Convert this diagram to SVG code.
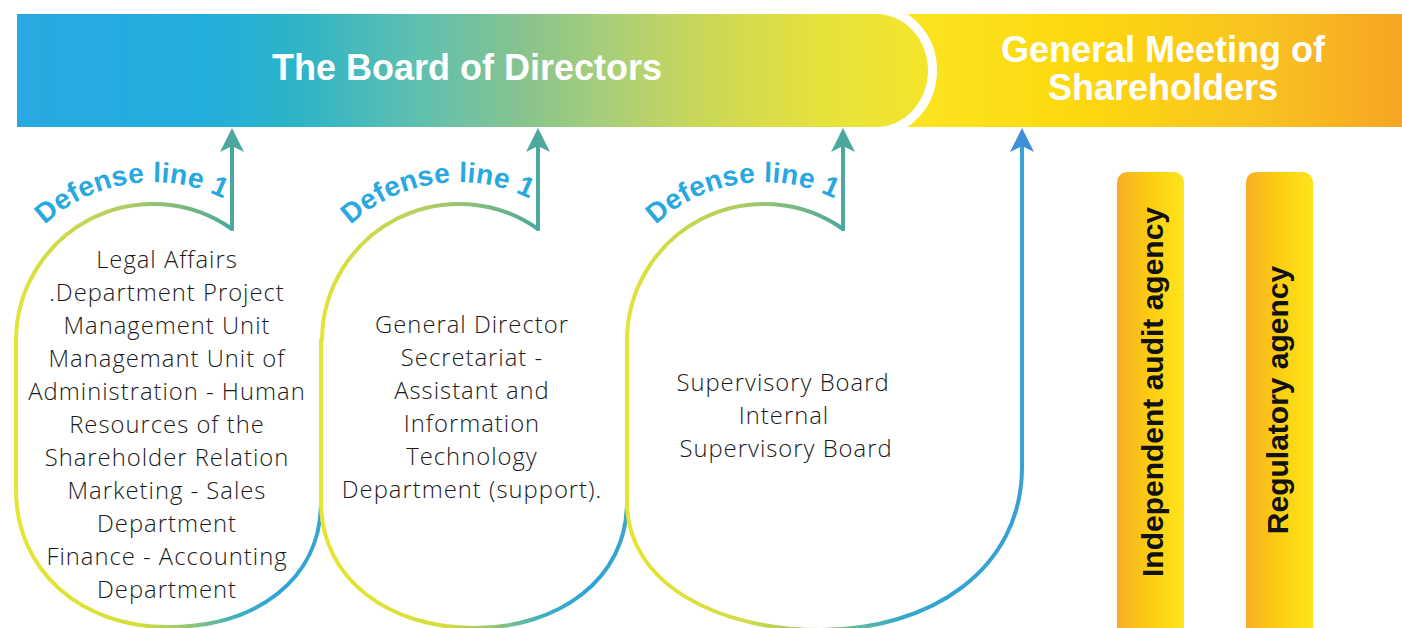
<svg xmlns="http://www.w3.org/2000/svg" width="1402" height="628" viewBox="0 0 1402 628">
<style>
.title{font-family:"Liberation Sans",Arial,sans-serif;font-weight:bold;font-size:36px;fill:#fff;text-anchor:middle}
.def{font-family:"Liberation Sans",Arial,sans-serif;font-weight:bold;font-size:28px;fill:#29a8e0;letter-spacing:0.3px}
.body{font-family:"Open Sans","Liberation Sans",sans-serif;font-weight:300;font-size:23.8px;letter-spacing:1px;fill:#1a1a1a;text-anchor:middle}
.agency{font-family:"Liberation Sans",Arial,sans-serif;font-weight:bold;font-size:30px;fill:#111;text-anchor:middle}
.ln{fill:none;stroke-width:4;stroke-linecap:round}
</style>
<defs>
<linearGradient id="gBoard" x1="17" y1="0" x2="930" y2="0" gradientUnits="userSpaceOnUse">
<stop offset="0" stop-color="#29a9e2"/>
<stop offset="0.2" stop-color="#22aedb"/>
<stop offset="0.3" stop-color="#2bb3c8"/>
<stop offset="0.44" stop-color="#5fc0b0"/>
<stop offset="0.55" stop-color="#86c38f"/>
<stop offset="0.65" stop-color="#a9cf78"/>
<stop offset="0.74" stop-color="#c8d65a"/>
<stop offset="0.88" stop-color="#e6e23c"/>
<stop offset="1" stop-color="#f5e52a"/>
</linearGradient>
<linearGradient id="gGM" x1="900" y1="0" x2="1402" y2="0" gradientUnits="userSpaceOnUse">
<stop offset="0" stop-color="#fbe523"/>
<stop offset="0.35" stop-color="#fdd90e"/>
<stop offset="0.7" stop-color="#f9c420"/>
<stop offset="1" stop-color="#f6a624"/>
</linearGradient>
<linearGradient id="gAg" x1="0" y1="0" x2="1" y2="0">
<stop offset="0" stop-color="#f6ae24"/>
<stop offset="0.5" stop-color="#fcce12"/>
<stop offset="1" stop-color="#fde41c"/>
</linearGradient>
<linearGradient id="gTop1" x1="16" y1="0" x2="232" y2="0" gradientUnits="userSpaceOnUse">
<stop offset="0" stop-color="#e3e33a"/><stop offset="0.5" stop-color="#b2cd62"/><stop offset="1" stop-color="#4aa89c"/>
</linearGradient>
<linearGradient id="gTop2" x1="322" y1="0" x2="538" y2="0" gradientUnits="userSpaceOnUse">
<stop offset="0" stop-color="#e3e33a"/><stop offset="0.5" stop-color="#b2cd62"/><stop offset="1" stop-color="#4aa89c"/>
</linearGradient>
<linearGradient id="gTop3" x1="627" y1="0" x2="843" y2="0" gradientUnits="userSpaceOnUse">
<stop offset="0" stop-color="#e3e33a"/><stop offset="0.5" stop-color="#b2cd62"/><stop offset="1" stop-color="#4aa89c"/>
</linearGradient>
<linearGradient id="gBot1" x1="16" y1="0" x2="321" y2="0" gradientUnits="userSpaceOnUse">
<stop offset="0" stop-color="#e6e535"/><stop offset="0.4" stop-color="#d6de3e"/><stop offset="0.55" stop-color="#9cc86a"/><stop offset="0.72" stop-color="#3fb0c0"/><stop offset="0.87" stop-color="#2aa3dc"/><stop offset="1" stop-color="#3aa6cc"/>
</linearGradient>
<linearGradient id="gBot2" x1="321" y1="0" x2="627" y2="0" gradientUnits="userSpaceOnUse">
<stop offset="0" stop-color="#e6e535"/><stop offset="0.4" stop-color="#d6de3e"/><stop offset="0.55" stop-color="#9cc86a"/><stop offset="0.72" stop-color="#3fb0c0"/><stop offset="0.87" stop-color="#2aa3dc"/><stop offset="1" stop-color="#3aa6cc"/>
</linearGradient>
<linearGradient id="gBot3" x1="627" y1="0" x2="1022" y2="0" gradientUnits="userSpaceOnUse">
<stop offset="0" stop-color="#e6e535"/><stop offset="0.3" stop-color="#d2dc44"/><stop offset="0.5" stop-color="#8cc47a"/><stop offset="0.7" stop-color="#2fa8d0"/><stop offset="1" stop-color="#3a9fd6"/>
</linearGradient>
<path id="arc1" d="M16.2,261 A158,158 0 0 1 289.8,261"/>
<path id="arc2" d="M322.2,261 A158,158 0 0 1 595.8,261"/>
<path id="arc3" d="M627.2,261 A158,158 0 0 1 900.8,261"/>
</defs>

<g id="gm">
<rect x="860" y="14" width="542" height="113" fill="url(#gGM)"/>
<text class="title" x="1163" y="62">General Meeting of</text>
<text class="title" x="1163" y="100">Shareholders</text>
</g>

<g id="board">
<path d="M17,14 H876 A52,56.5 0 0 1 876,127 H17 Z" fill="none" stroke="#fff" stroke-width="18"/>
<path d="M17,14 H876 A52,56.5 0 0 1 876,127 H17 Z" fill="url(#gBoard)"/>
<text class="title" x="467" y="80">The Board of Directors</text>
</g>

<g id="connectors">
<path class="ln" stroke="url(#gTop1)" d="M232,229 A137,137 0 0 0 16,340"/>
<path class="ln" stroke="#e4e436" d="M16,340 V490"/>
<path class="ln" stroke="url(#gBot1)" d="M16,490 C16,570 80,627 168,627 C256,627 321,580 321,502"/>
<path class="ln" stroke="#4aa89c" d="M232,229 V146"/>
<path d="M232,128 L244,152 L232,146 L220,152 Z" fill="#4aa89c"/>

<path class="ln" stroke="url(#gTop2)" d="M538,229 A137,137 0 0 0 322,340"/>
<path class="ln" stroke="#e4e436" d="M321,340 V502"/>
<path class="ln" stroke="url(#gBot2)" d="M321,502 C321,580 390,628 474,628 C558,628 627,580 627,502"/>
<path class="ln" stroke="#4aa89c" d="M538,229 V146"/>
<path d="M538,128 L550,152 L538,146 L526,152 Z" fill="#4aa89c"/>

<path class="ln" stroke="url(#gTop3)" d="M843,229 A137,137 0 0 0 627,340"/>
<path class="ln" stroke="#e4e436" d="M627,340 V502"/>
<path class="ln" stroke="url(#gBot3)" d="M627,502 C627,585 720,630 820,630 C930,630 1022,570 1022,467"/>
<path class="ln" stroke="#4aa89c" d="M843,229 V146"/>
<path d="M843,128 L855,152 L843,146 L831,152 Z" fill="#4aa89c"/>

<path class="ln" stroke="#3aa0d8" d="M1022,468 V146"/>
<path d="M1022,128 L1034,152 L1022,146 L1010,152 Z" fill="#3d8fd8"/>
</g>

<g id="defense1"><text class="def"><textPath href="#arc1" startOffset="46">Defense line 1</textPath></text></g>
<g id="defense2"><text class="def"><textPath href="#arc2" startOffset="46">Defense line 1</textPath></text></g>
<g id="defense3"><text class="def"><textPath href="#arc3" startOffset="46">Defense line 1</textPath></text></g>

<g id="node1">
<text class="body" x="167" y="268">Legal Affairs</text>
<text class="body" x="167" y="301">.Department Project</text>
<text class="body" x="167" y="334">Management Unit</text>
<text class="body" x="167" y="367">Managemant Unit of</text>
<text class="body" x="167" y="400">Administration - Human</text>
<text class="body" x="167" y="433">Resources of the</text>
<text class="body" x="167" y="466">Shareholder Relation</text>
<text class="body" x="167" y="499">Marketing - Sales</text>
<text class="body" x="167" y="532">Department</text>
<text class="body" x="167" y="565">Finance - Accounting</text>
<text class="body" x="167" y="598">Department</text>
</g>

<g id="node2">
<text class="body" x="472" y="333">General Director</text>
<text class="body" x="472" y="366">Secretariat -</text>
<text class="body" x="472" y="399">Assistant and</text>
<text class="body" x="472" y="432">Information</text>
<text class="body" x="472" y="465">Technology</text>
<text class="body" x="472" y="498">Department (support).</text>
</g>

<g id="node3">
<text class="body" x="783" y="391">Supervisory Board</text>
<text class="body" x="784" y="424">Internal</text>
<text class="body" x="786" y="457">Supervisory Board</text>
</g>

<g id="audit">
<rect x="1117" y="172" width="67" height="470" rx="10" fill="url(#gAg)"/>
<text class="agency" transform="translate(1163,392) rotate(-90)">Independent audit agency</text>
</g>
<g id="regulatory">
<rect x="1246" y="172" width="67" height="470" rx="10" fill="url(#gAg)"/>
<text class="agency" transform="translate(1288,400) rotate(-90)">Regulatory agency</text>
</g>
</svg>
